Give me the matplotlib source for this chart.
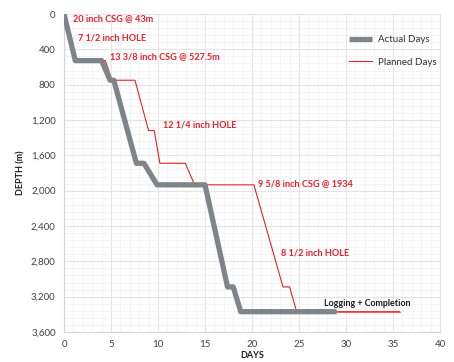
import numpy as np
import matplotlib
matplotlib.use('Agg')
import matplotlib.pyplot as plt
from matplotlib.ticker import MultipleLocator, FuncFormatter

plt.rcParams['font.family'] = ['Lato', 'DejaVu Sans']

# actual well progress (days, depth m)
actual_days = [0, 1.2, 4.0, 4.9, 5.3, 7.7, 8.5, 9.9, 15.0, 17.4, 18.0, 18.8, 29.0]
actual_depth = [0, 527.5, 527.5, 750, 750, 1690, 1690, 1934, 1934, 3090, 3090, 3370, 3370]

# planned well progress
planned_days = [0, 1.06, 4.4, 5.1, 7.55, 9.0, 9.6, 10.2, 12.9, 13.9, 20.2, 23.3, 24.0, 24.75, 35.7]
planned_depth = [0, 527.5, 527.5, 750, 750, 1320, 1320, 1690, 1690, 1934, 1934, 3090, 3090, 3370, 3370]

# section labels
notes = ['20 inch CSG @ 43m', '7 1/2 inch HOLE', '13 3/8 inch CSG @ 527.5m',
         '12 1/4 inch HOLE', '9 5/8 inch CSG @ 1934', '8 1/2 inch HOLE']
note_x = [0.96, 1.49, 4.89, 10.5, 20.6, 23.1]
note_y = [57, 273, 477, 1260, 1920, 2703]

fig = plt.figure(figsize=(4.54, 3.62), dpi=100)
ax = fig.add_axes([64/454, 1-332/362, (440-64)/454, (332-14)/362])

ax.plot(planned_days, planned_depth, color='#E8202A', lw=0.8, label='Planned Days', zorder=2)
ax.plot(actual_days, actual_depth, color='#7F8488', lw=3.8, label='Actual Days',
        solid_capstyle='butt', zorder=3)
ax.plot(planned_days[-2:], planned_depth[-2:], color='#E8202A', lw=0.8, alpha=0.6, zorder=1)

for t, x, y in zip(notes, note_x, note_y):
    ax.text(x, y, t, color='#E8202A', fontsize=6.6, fontweight='bold', va='center', ha='left')
ax.text(27.7, 3282, 'Logging + Completion', color='#1a1a1a', fontsize=6.4,
        fontweight='bold', va='center', ha='left', zorder=4)

ax.set_xlim(0, 40)
ax.set_ylim(3600, 0)
ax.xaxis.set_major_locator(MultipleLocator(5))
ax.xaxis.set_minor_locator(MultipleLocator(1))
ax.yaxis.set_major_locator(MultipleLocator(400))
ax.yaxis.set_minor_locator(MultipleLocator(80))
ax.yaxis.set_major_formatter(FuncFormatter(lambda v, p: f'{int(v):,}'))
ax.grid(which='major', color='#E4E4E4', lw=0.8)
ax.grid(which='minor', color='#F3F3F3', lw=0.6)
ax.set_axisbelow(True)
ax.tick_params(which='both', length=0, labelsize=7, colors='#404040')
ax.tick_params(axis='y', pad=6)
ax.tick_params(axis='x', pad=6)
for s in ax.spines.values():
    s.set_color('#E4E4E4')
ax.spines['left'].set_color('#D0D3D8')
ax.spines['bottom'].set_color('#D0D3D8')

ax.set_xlabel('DAYS', fontsize=6.5, fontweight='bold', color='#1a1a1a', labelpad=1)
ax.set_ylabel('DEPTH (m)', fontsize=6.5, fontweight='bold', color='#1a1a1a', labelpad=4)

h, l = ax.get_legend_handles_labels()
leg = fig.legend(h[::-1], l[::-1], loc='upper left', bbox_to_anchor=(349/454, 1-35/362),
                 frameon=False, fontsize=7, handlelength=2.4, labelspacing=1.4,
                 borderpad=0, borderaxespad=0, handletextpad=0.6)
for t in leg.get_texts():
    t.set_color('#303030')

fig.savefig('out.png', dpi=100)
